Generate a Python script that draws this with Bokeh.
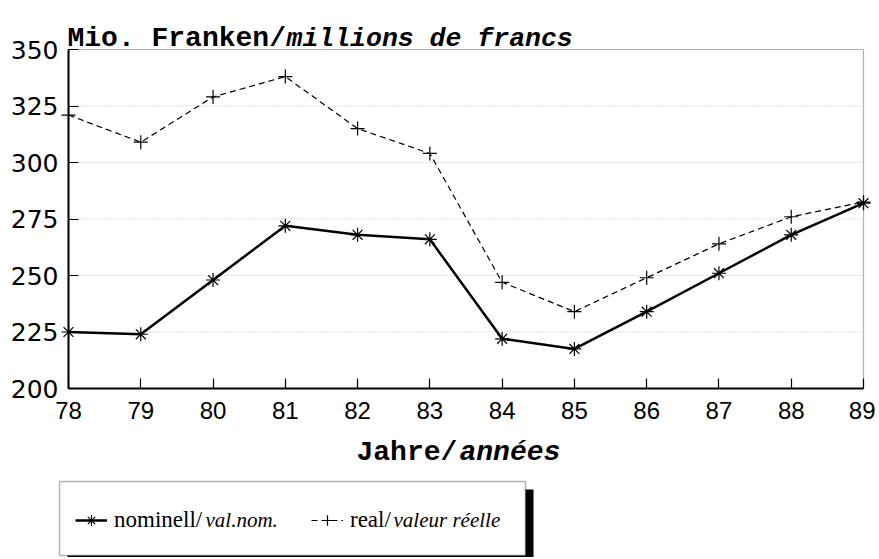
from bokeh.plotting import figure
from bokeh.models import Label, BoxAnnotation, Legend, LegendItem, FixedTicker, Range1d
from bokeh.embed import file_html
from bokeh.resources import INLINE

# ---- data ----
years = [78, 79, 80, 81, 82, 83, 84, 85, 86, 87, 88, 89]
nominal = [225, 224, 248, 272, 268, 266, 222, 217.5, 234, 251, 268, 282]
real = [321, 309, 329, 338, 315, 304, 247, 234, 249, 264, 276, 282.5]
y_ticks = [200, 225, 250, 275, 300, 325, 350]
x_ticks = years
title_normal = "Mio. Franken/"
title_italic = "millions de francs"
xlabel_normal = "Jahre/"
xlabel_italic = "années"
leg_nom_normal = "nominell/"
leg_nom_italic = "val.nom."
leg_real_normal = "real/"
leg_real_italic = "valeur réelle"

MONO = "Liberation Mono"
SANS = "DejaVu Sans"
SANS2 = "Liberation Sans"
SERIF = "Liberation Serif"

# ---- layout geometry (pixels) ----
W, H = 875, 557
PX_L, PX_R = 68, 863      # plot box left/right
PY_T, PY_B = 49, 388      # plot box top/bottom
x0, x1 = years[0], years[-1]
y0, y1 = y_ticks[0], y_ticks[-1]
kx = (PX_R - PX_L) / (x1 - x0)
ky = (PY_B - PY_T) / (y1 - y0)
xs = x0 - PX_L / kx
xe = xs + W / kx
ys = y0 - (H - PY_B) / ky
ye = ys + H / ky

def dx(px):
    return xs + px / kx

def dy(py):
    return ys + (H - py) / ky

p = figure(width=W, height=H, output_backend="svg", toolbar_location=None,
           x_range=Range1d(xs, xe), y_range=Range1d(ys, ye),
           min_border=0, min_border_left=0, min_border_right=0,
           min_border_top=0, min_border_bottom=0,
           background_fill_color="white", border_fill_color="white")
p.outline_line_color = None
p.xgrid.grid_line_color = None
p.ygrid.grid_line_color = None

# axes at fixed positions
p.xaxis.fixed_location = y0
p.yaxis.fixed_location = x0
p.xaxis.bounds = (x0, x1)
p.yaxis.bounds = (y0, y1)
p.xaxis.ticker = FixedTicker(ticks=x_ticks)
p.yaxis.ticker = FixedTicker(ticks=y_ticks)
for ax in (p.xaxis[0], p.yaxis[0]):
    ax.axis_line_color = "black"
    ax.axis_line_width = 2
    ax.major_tick_in = 10
    ax.major_tick_out = 0
    ax.major_tick_line_color = "black"
    ax.major_tick_line_width = 1.2
    ax.minor_tick_line_color = None
    ax.major_label_text_color = "black"
p.xaxis.major_label_text_font = SANS2
p.xaxis.major_label_text_font_size = "24px"
p.xaxis.major_label_standoff = 13
p.yaxis.major_label_text_font = SANS
p.yaxis.major_label_text_font_size = "25px"
p.yaxis.major_label_standoff = 10

# horizontal dotted grid lines inside the plot box
inner = y_ticks[1:-1]
p.segment(x0=[x0] * len(inner), x1=[x1] * len(inner), y0=inner, y1=inner,
          line_color="#bdbdbd", line_dash="1 2", line_width=1, level="underlay")

# plot box
p.add_layout(BoxAnnotation(left=x0, right=x1, bottom=y0, top=y1, fill_color=None,
                           fill_alpha=0, line_color="black", line_width=1.2))

# series
l_nom = p.line(years, nominal, line_color="black", line_width=2.5)
m_nom = p.scatter(years, nominal, marker="asterisk", size=14, line_color="black", line_width=1.2)
l_real = p.line(years, real, line_color="black", line_width=1.2, line_dash="6 4")
m_real = p.scatter(years, real, marker="cross", size=14, line_color="black", line_width=1.2)

def lab(text, px, py, font, style, size, baseline="alphabetic"):
    p.add_layout(Label(x=dx(px), y=dy(py), text=text, text_font=font,
                       text_font_style=style, text_font_size=size,
                       text_baseline=baseline, text_align="left", text_color="black"))

# title and x-axis label (mixed styles)
lab(title_normal, 67, 38, MONO, "bold", "28px")
lab(title_italic, 286, 38, MONO, "bold italic", "26.5px")
lab(xlabel_normal, 356, 452, MONO, "bold", "28px")
lab(xlabel_italic, 459, 452, MONO, "bold italic", "28px")

# legend box with shadow
p.add_layout(BoxAnnotation(left=dx(67), right=dx(533), top=dy(489), bottom=dy(557),
                           fill_color="black", fill_alpha=1, line_color=None))
p.add_layout(BoxAnnotation(left=dx(59), right=dx(525), top=dy(481), bottom=dy(555),
                           fill_color="white", fill_alpha=1, line_color="black",
                           line_width=1.5))

def make_legend(label, renderers, x):
    return Legend(items=[LegendItem(label=label, renderers=renderers)],
                  location=(x, H - 520 - 13), orientation="horizontal",
                  border_line_color=None, background_fill_alpha=0,
                  padding=0, margin=0, spacing=0, glyph_width=32, glyph_height=26,
                  label_standoff=7, label_height=26, label_text_font=SERIF,
                  label_text_font_size="23px", label_text_color="black")

p.add_layout(make_legend(leg_nom_normal, [l_nom, m_nom], 75))
p.add_layout(make_legend(leg_real_normal, [l_real, m_real], 311))

lab(leg_nom_italic, 205, 519, SERIF, "italic", "21px", "middle")
lab(leg_real_italic, 393, 519, SERIF, "italic", "21px", "middle")

open("out.html", "w").write(file_html(p, INLINE))
